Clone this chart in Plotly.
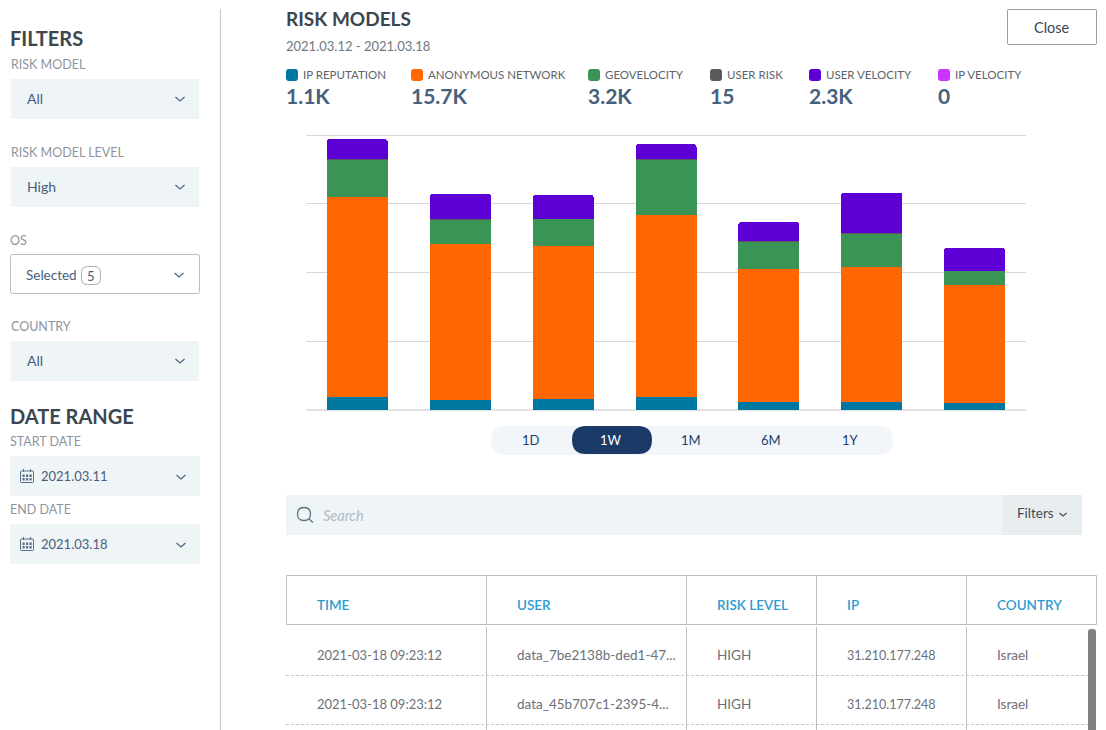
import plotly.graph_objects as go

WIDTH = 1106
HEIGHT = 730
FONT = 'Lato'

days = ['2021.03.12', '2021.03.13', '2021.03.14', '2021.03.15', '2021.03.16', '2021.03.17', '2021.03.18']
ip_reputation = [193, 141, 156, 189, 121, 116, 97]
anonymous_network = [2909, 2269, 2230, 2647, 1935, 1968, 1721]
geovelocity = [544, 368, 393, 810, 396, 486, 204]
user_risk = [2, 3, 2, 2, 2, 2, 2]
user_velocity = [291, 364, 349, 218, 279, 591, 335]
ip_velocity = [0, 0, 0, 0, 0, 0, 0]

series_names = ['IP REPUTATION', 'ANONYMOUS NETWORK', 'GEOVELOCITY', 'USER RISK', 'USER VELOCITY', 'IP VELOCITY']
series_totals = ['1.1K', '15.7K', '3.2K', '15', '2.3K', '0']
series_colors = ['#00779f', '#ff6600', '#3a9455', '#5a5a5a', '#5c00d6', '#cc33ff']
series_values = [ip_reputation, anonymous_network, geovelocity, user_risk, user_velocity, ip_velocity]
y_ticks = [0, 1000, 2000, 3000, 4000]

periods = ['1D', '1W', '1M', '6M', '1Y']
table_columns = ['TIME', 'USER', 'RISK LEVEL', 'IP', 'COUNTRY']
table_rows = [['2021-03-18 09:23:12', 'data_7be2138b-ded1-47...', 'HIGH', '31.210.177.248', 'Israel'],
              ['2021-03-18 09:23:12', 'data_45b707c1-2395-4...', 'HIGH', '31.210.177.248', 'Israel']]

shapes = []
annotations = []


def px(x):
    return x / WIDTH


def py(y):
    return 1 - y / HEIGHT


def text(x, y, label, size=13, color='#47607c', weight=400, anchor='left', style='normal'):
    annotations.append(dict(x=px(x), y=py(y), xref='paper', yref='paper', text=label, showarrow=False,
                            xanchor=anchor, yanchor='middle', borderpad=0, borderwidth=0,
                            font=dict(family=FONT, size=size, color=color, weight=weight, style=style)))


def path(d, fill=None, line=None, width=1, dash='solid'):
    shapes.append(dict(type='path', path=d, xref='paper', yref='paper', layer='below',
                       fillcolor=fill if fill else 'rgba(0,0,0,0)',
                       line=dict(color=line if line else 'rgba(0,0,0,0)', width=width if line else 0, dash=dash)))


def box(x0, y0, x1, y1, r=0, fill=None, line=None, width=1):
    if r == 0:
        d = (f'M{px(x0)},{py(y0)} L{px(x1)},{py(y0)} L{px(x1)},{py(y1)} L{px(x0)},{py(y1)} Z')
    else:
        d = (f'M{px(x0 + r)},{py(y0)} L{px(x1 - r)},{py(y0)} Q{px(x1)},{py(y0)} {px(x1)},{py(y0 + r)} '
             f'L{px(x1)},{py(y1 - r)} Q{px(x1)},{py(y1)} {px(x1 - r)},{py(y1)} '
             f'L{px(x0 + r)},{py(y1)} Q{px(x0)},{py(y1)} {px(x0)},{py(y1 - r)} '
             f'L{px(x0)},{py(y0 + r)} Q{px(x0)},{py(y0)} {px(x0 + r)},{py(y0)} Z')
    path(d, fill, line, width)


def hline(x0, x1, y, color='#bdbdbd', width=1, dash='solid'):
    path(f'M{px(x0)},{py(y)} L{px(x1)},{py(y)}', None, color, width, dash)


def vline(x, y0, y1, color='#bdbdbd', width=1):
    path(f'M{px(x)},{py(y0)} L{px(x)},{py(y1)}', None, color, width)


def chevron(x, y, w=4.5, h=4, color='#4d6480'):
    path(f'M{px(x - w)},{py(y - h / 2)} L{px(x)},{py(y + h / 2)} L{px(x + w)},{py(y - h / 2)}', None, color, 1.2)


def calendar(x, y):
    box(x - 6.5, y - 5, x + 6.5, y + 6.5, 1, None, '#5a6f85', 1)
    vline(x - 3.5, y - 7, y - 4, '#5a6f85')
    vline(x + 3.5, y - 7, y - 4, '#5a6f85')
    for gx in [-4.5, -1, 2.5]:
        box(x + gx, y - 1.5, x + gx + 2.2, y + 1, 0, '#5a6f85')
        box(x + gx, y + 2, x + gx + 2.2, y + 4.5, 0, '#5a6f85')


def dropdown(y0, value, x0=11, x1=199):
    box(x0, y0, x1, y0 + 40, 0, '#eff4f7')
    text(27, y0 + 19.5, value, 14)
    chevron(180, y0 + 20)


# left filter panel
text(10, 38, 'FILTERS', 20, '#3c4650', 700)
text(11, 64.5, 'RISK MODEL', 12.5, '#8e959c')
dropdown(79, 'All')
text(11, 152.5, 'RISK MODEL LEVEL', 12.5, '#8e959c')
dropdown(167, 'High')
text(10, 240.5, 'OS', 12.5, '#8e959c')
box(10.5, 254.5, 199.5, 293.5, 2, '#ffffff', '#b9bdc2')
text(26, 275, 'Selected', 13.5)
box(81.5, 266.5, 100.5, 284.5, 6, '#ffffff', '#a9b0b7')
text(91, 275.5, '5', 13, anchor='center')
chevron(179, 275)
text(11, 326.5, 'COUNTRY', 12.5, '#8e959c')
dropdown(341, 'All')
text(10, 416, 'DATE RANGE', 20, '#3c4650', 700)
text(10, 441.5, 'START DATE', 12.5, '#8e959c')
box(10, 456, 200, 496, 2, '#eff4f7')
calendar(27, 476)
text(41, 476, '2021.03.11', 13)
chevron(181, 477)
text(10, 509.5, 'END DATE', 12.5, '#8e959c')
box(10, 524, 200, 564, 2, '#eff4f7')
calendar(27, 544)
text(41, 544, '2021.03.18', 13)
chevron(181, 545)
vline(220.5, 9, 730, '#c4c8cc')

# header
text(286, 18.5, 'RISK MODELS', 19, '#3c4650', 700)
text(286, 46, '2021.03.12 - 2021.03.18', 13, '#6f767d')
box(1007.5, 9.5, 1096.5, 44.5, 1, '#ffffff', '#9a9fa5')
text(1052, 28, 'Close', 14.5, '#3c4650', anchor='center')

# legend with totals
legend_x = [286, 411, 588, 710, 809, 938]
for lx, name, total, color in zip(legend_x, series_names, series_totals, series_colors):
    box(lx, 69, lx + 12, 81, 3, color)
    text(lx + 17, 75, name, 11.5, '#5c646c')
    text(lx, 95.5, total, 21, '#47607c', 700)

# period switch
box(491, 426, 893, 455, 14.5, '#f2f5f9')
for i, period in enumerate(periods):
    cx = 531 + i * 80
    if period == '1W':
        box(cx - 39, 426, cx + 41, 454, 14, '#1a3a68')
    text(cx, 440, period, 13, '#ffffff' if period == '1W' else '#1f3d6c', anchor='center')

# search bar
box(286, 495, 1002, 535, 0, '#eff4f7')
box(1002, 495, 1082, 535, 0, '#e8edf0')
path(f'M{px(297.5)},{py(514)} Q{px(297.5)},{py(507.5)} {px(304)},{py(507.5)} Q{px(310.5)},{py(507.5)} {px(310.5)},{py(514)} '
     f'Q{px(310.5)},{py(520.5)} {px(304)},{py(520.5)} Q{px(297.5)},{py(520.5)} {px(297.5)},{py(514)} Z',
     None, '#5f7488', 1.3)
path(f'M{px(308.5)},{py(518.5)} L{px(313)},{py(522.5)}', None, '#5f7488', 1.3)
text(323, 515, 'Search', 14.5, '#aebbc6', style='italic')
text(1017, 513, 'Filters', 13.5, '#444c55')
chevron(1063, 514.5, 3.5, 3, '#444c55')

# table
column_lines = [486.5, 686.5, 816.5, 966.5]
column_text = [317, 517, 717, 847, 997]
column_size = [13, 13.5, 13.5, 12.5, 13.5]
box(286.5, 575.5, 1096.5, 624.5, 0, None, '#bdbdbd')
for cx in column_lines:
    vline(cx, 575.5, 624.5)
    vline(cx, 627, 730)
for cx, name in zip(column_text, table_columns):
    text(cx, 605, name, 13.5, '#2e9bd0', 600)
for row, row_y, line_y in zip(table_rows, [655, 704], [675.5, 724.5]):
    for cx, value, size in zip(column_text, row, column_size):
        text(cx, row_y, value, size, '#6b7178')
    hline(286, 1096, line_y, '#c4c4c4', 1, '3px,2px')
box(1088, 629, 1096, 740, 3, '#808080')

fig = go.Figure()
for name, values, color in zip(series_names, series_values, series_colors):
    fig.add_trace(go.Bar(x=days, y=values, name=name, marker=dict(color=color, line=dict(width=0)), width=0.593))

fig.update_layout(width=WIDTH, height=HEIGHT,
                  margin=dict(l=0, r=0, t=0, b=0),
                  paper_bgcolor='#ffffff',
                  plot_bgcolor='#ffffff',
                  barmode='stack',
                  barcornerradius=3,
                  showlegend=False,
                  font=dict(family=FONT),
                  shapes=shapes,
                  annotations=annotations)
fig.update_xaxes(domain=[px(306), px(1026)], range=[-0.5, 6.5], type='category',
                 showticklabels=False, showgrid=False, zeroline=False, ticks='', fixedrange=True)
# range runs a little past 4000, otherwise the top gridline is dropped at the edge
fig.update_yaxes(domain=[py(410), py(134)], range=[0, 4015], tickvals=y_ticks, showticklabels=False,
                 showgrid=True, gridcolor='#d8d8d8', gridwidth=1,
                 zeroline=True, zerolinecolor='#e2e2e2', zerolinewidth=2, ticks='', fixedrange=True)

fig.write_html('out.html', config={'displayModeBar': False},
               post_script="document.body.style.margin='0';document.documentElement.style.overflow='hidden';")
